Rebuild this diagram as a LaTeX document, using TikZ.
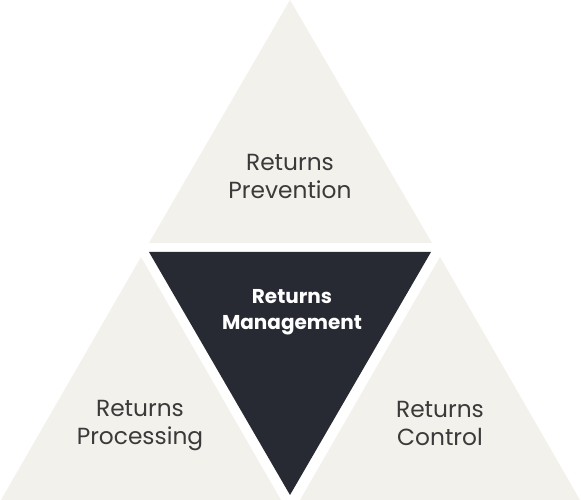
\documentclass[tikz,border=0pt]{standalone}
\usepackage{fontspec}
\setmainfont{Poppins}
\definecolor{beige}{HTML}{F3F1EC}
\definecolor{darkbox}{HTML}{272A33}
\definecolor{txt}{HTML}{3A3A3A}
\begin{document}
\begin{tikzpicture}[x=1pt,y=1pt,
  lighttri/.style={fill=beige,draw=none},
  darktri/.style={fill=darkbox,draw=none},
  lbl/.style={align=center,text=txt,font=\fontsize{23.3}{28}\selectfont},
  blbl/.style={align=center,text=white,font=\fontsize{20}{26}\selectfont\bfseries}]
\useasboundingbox (0,0) rectangle (581,500);
\fill[white] (0,0) rectangle (581,500);
\coordinate (tA) at (290,500);
\coordinate (tL) at (149,257);
\coordinate (tR) at (432,257);
\coordinate (dL) at (149,248);
\coordinate (dR) at (431,248);
\coordinate (dB) at (290,5);
\coordinate (lA) at (141,243);
\coordinate (lL) at (1,0);
\coordinate (lR) at (281,0);
\coordinate (rA) at (440,243);
\coordinate (rL) at (300,0);
\coordinate (rR) at (580,0);
\fill[lighttri] (tA) -- (tL) -- (tR) -- cycle;
\fill[darktri] (dL) -- (dR) -- (dB) -- cycle;
\fill[lighttri] (lA) -- (lL) -- (lR) -- cycle;
\fill[lighttri] (rA) -- (rL) -- (rR) -- cycle;
\node[lbl] (prev) at (290,324) {Returns\\Prevention};
\node[blbl] (mgmt) at (292,188) {Returns\\Management};
\node[lbl] (proc) at (140,74) {Returns\\Processing};
\node[lbl] (ctrl) at (440,77) {Returns\\Control};
\end{tikzpicture}
\end{document}
